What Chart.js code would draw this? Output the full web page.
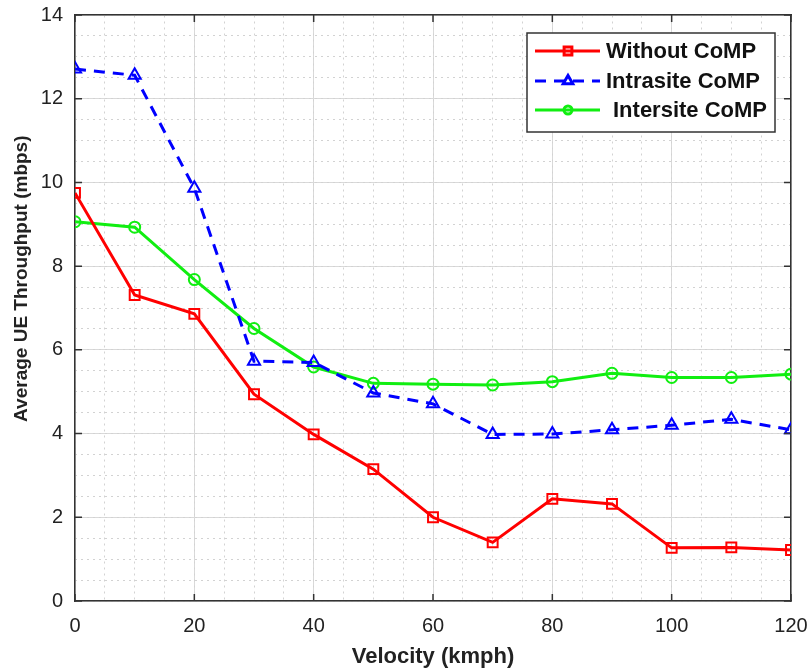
<!DOCTYPE html>
<html>
<head>
<meta charset="utf-8">
<script src="https://cdn.jsdelivr.net/npm/chart.js@4.4.0/dist/chart.umd.min.js"></script>
<style>
  html, body { margin: 0; padding: 0; background: #fff; }
  #wrap { width: 808px; height: 670px; }
</style>
</head>
<body>
<div id="wrap"><canvas id="chart1" width="808" height="670"></canvas></div>
<script>
const velocity = [0, 10, 20, 30, 40, 50, 60, 70, 80, 90, 100, 110, 120];
const withoutCoMP = [9.75, 7.31, 6.86, 4.94, 3.98, 3.15, 2.0, 1.4, 2.44, 2.32, 1.27, 1.28, 1.22];
const intrasiteCoMP = [12.71, 12.56, 9.86, 5.73, 5.70, 4.97, 4.71, 3.98, 3.99, 4.09, 4.20, 4.34, 4.09];
const intersiteCoMP = [9.06, 8.93, 7.68, 6.51, 5.59, 5.20, 5.18, 5.16, 5.24, 5.44, 5.34, 5.34, 5.42];
const seriesNames = ['Without CoMP', 'Intrasite CoMP', 'Intersite CoMP'];
const xTicks = [0, 20, 40, 60, 80, 100, 120];
const yTicks = [0, 2, 4, 6, 8, 10, 12, 14];
const yTitle = 'Average UE Throughput (mbps)';

const pts = (ys) => velocity.map((v, i) => ({ x: v, y: ys[i] }));
const FONT = 'Liberation Sans, Arial, sans-serif';
const tickFont = { family: FONT, size: 20 };

// legend drawn inside the plot box, MATLAB style
const boxLegend = {
  id: 'boxLegend',
  afterDraw(chart) {
    const { ctx, chartArea } = chart;
    const w = 248, h = 99;
    const x0 = chartArea.right - w - 16, y0 = chartArea.top + 18;
    ctx.save();
    ctx.fillStyle = '#fff';
    ctx.fillRect(x0, y0, w, h);
    ctx.strokeStyle = '#333';
    ctx.lineWidth = 1.5;
    ctx.strokeRect(x0, y0, w, h);
    const rows = [y0 + 18, y0 + 48, y0 + 77];
    chart.data.datasets.forEach((ds, i) => {
      const y = rows[i];
      ctx.strokeStyle = ds.borderColor;
      ctx.lineWidth = ds.borderWidth;
      ctx.setLineDash(ds.borderDash || []);
      ctx.beginPath();
      ctx.moveTo(x0 + 8, y);
      ctx.lineTo(x0 + 73, y);
      ctx.stroke();
      ctx.setLineDash([]);
      ctx.fillStyle = 'rgba(255,255,255,0)';
      Chart.helpers.drawPoint(ctx, {
        pointStyle: ds.pointStyle, radius: ds.pointRadius - 1.5, borderWidth: 2
      }, x0 + 41, y);
      ctx.fillStyle = '#111';
      ctx.font = 'bold 22px ' + FONT;
      ctx.textBaseline = 'middle';
      ctx.fillText(ds.label, x0 + 79 + (i === 2 ? 7 : 0), y + 1);
    });
    ctx.restore();
  }
};

// small inward tick marks on all four sides + y title (sits a bit above centre in the original)
const innerTicks = {
  id: 'innerTicks',
  afterDatasetsDraw(chart) {
    const { ctx, chartArea: a, scales } = chart;
    ctx.save();
    ctx.strokeStyle = '#333';
    ctx.lineWidth = 1.5;
    ctx.beginPath();
    xTicks.forEach(v => {
      const px = scales.x.getPixelForValue(v);
      ctx.moveTo(px, a.bottom); ctx.lineTo(px, a.bottom - 7);
      ctx.moveTo(px, a.top); ctx.lineTo(px, a.top + 7);
    });
    yTicks.forEach(v => {
      const py = scales.y.getPixelForValue(v);
      ctx.moveTo(a.left, py); ctx.lineTo(a.left + 7, py);
      ctx.moveTo(a.right, py); ctx.lineTo(a.right - 7, py);
    });
    ctx.stroke();
    ctx.translate(22, scales.y.getPixelForValue(7.7));
    ctx.rotate(-Math.PI / 2);
    ctx.fillStyle = '#222';
    ctx.font = 'bold 19px ' + FONT;
    ctx.textAlign = 'center';
    ctx.textBaseline = 'middle';
    ctx.fillText(yTitle, 0, 0);
    ctx.restore();
  }
};

new Chart('chart1', {
  type: 'line',
  data: {
    datasets: [
      {
        label: seriesNames[0], data: pts(withoutCoMP),
        borderColor: '#ff0000', borderWidth: 3, pointStyle: 'rect',
        pointRadius: 7, pointBorderWidth: 2, pointBackgroundColor: 'rgba(255,255,255,0)',
        pointBorderColor: '#ff0000'
      },
      {
        label: seriesNames[1], data: pts(intrasiteCoMP),
        borderColor: '#0000ff', borderWidth: 3, borderDash: [11, 8], pointStyle: 'triangle',
        pointRadius: 7, pointBorderWidth: 2, pointBackgroundColor: 'rgba(255,255,255,0)',
        pointBorderColor: '#0000ff'
      },
      {
        label: seriesNames[2], data: pts(intersiteCoMP),
        borderColor: '#11ee11', borderWidth: 3, pointStyle: 'circle',
        pointRadius: 5.5, pointBorderWidth: 2, pointBackgroundColor: 'rgba(255,255,255,0)',
        pointBorderColor: '#11ee11'
      }
    ]
  },
  options: {
    responsive: false,
    animation: false,
    layout: { padding: { top: 15, right: 0, left: 10, bottom: 0 } },
    plugins: { legend: { display: false }, tooltip: { enabled: false } },
    scales: {
      x: {
        type: 'linear', min: 0, max: 120,
        afterBuildTicks: (s) => { s.ticks = xTicks.map(v => ({ value: v })); },
        afterFit: (s) => { s.height = 69; s.paddingRight = 17; s.paddingLeft = 0; },
        ticks: { font: tickFont, color: '#222', padding: 13 },
        grid: { color: '#d9d9d9', lineWidth: 1, drawTicks: false },
        border: { color: '#333', width: 1.5 },
        title: { display: true, text: 'Velocity (kmph)', font: { family: FONT, size: 22, weight: 'bold' }, color: '#222', padding: { top: 6, bottom: 0 } }
      },
      y: {
        min: 0, max: 14,
        afterBuildTicks: (s) => { s.ticks = yTicks.map(v => ({ value: v })); },
        afterFit: (s) => { s.width = 65; s.paddingTop = 0; s.paddingBottom = 0; },
        ticks: { font: tickFont, color: '#222', padding: 12 },
        grid: { color: '#d9d9d9', lineWidth: 1, drawTicks: false },
        border: { color: '#333', width: 1.5 }
      },
      xMinor: {
        type: 'linear', position: 'top', min: 0, max: 120,
        afterFit: (s) => { s.height = 0; },
        ticks: { display: false, stepSize: 5 },
        grid: { color: '#d2d2d2', lineWidth: 1, drawTicks: false },
        border: { color: '#333', width: 1.5, dash: [2, 4] }
      },
      yMinor: {
        type: 'linear', position: 'right', min: 0, max: 14,
        afterFit: (s) => { s.width = 0; },
        ticks: { display: false, stepSize: 0.5 },
        grid: { color: '#d2d2d2', lineWidth: 1, drawTicks: false },
        border: { color: '#333', width: 1.5, dash: [2, 4] }
      }
    }
  },
  plugins: [boxLegend, innerTicks]
});
</script>
</body>
</html>
